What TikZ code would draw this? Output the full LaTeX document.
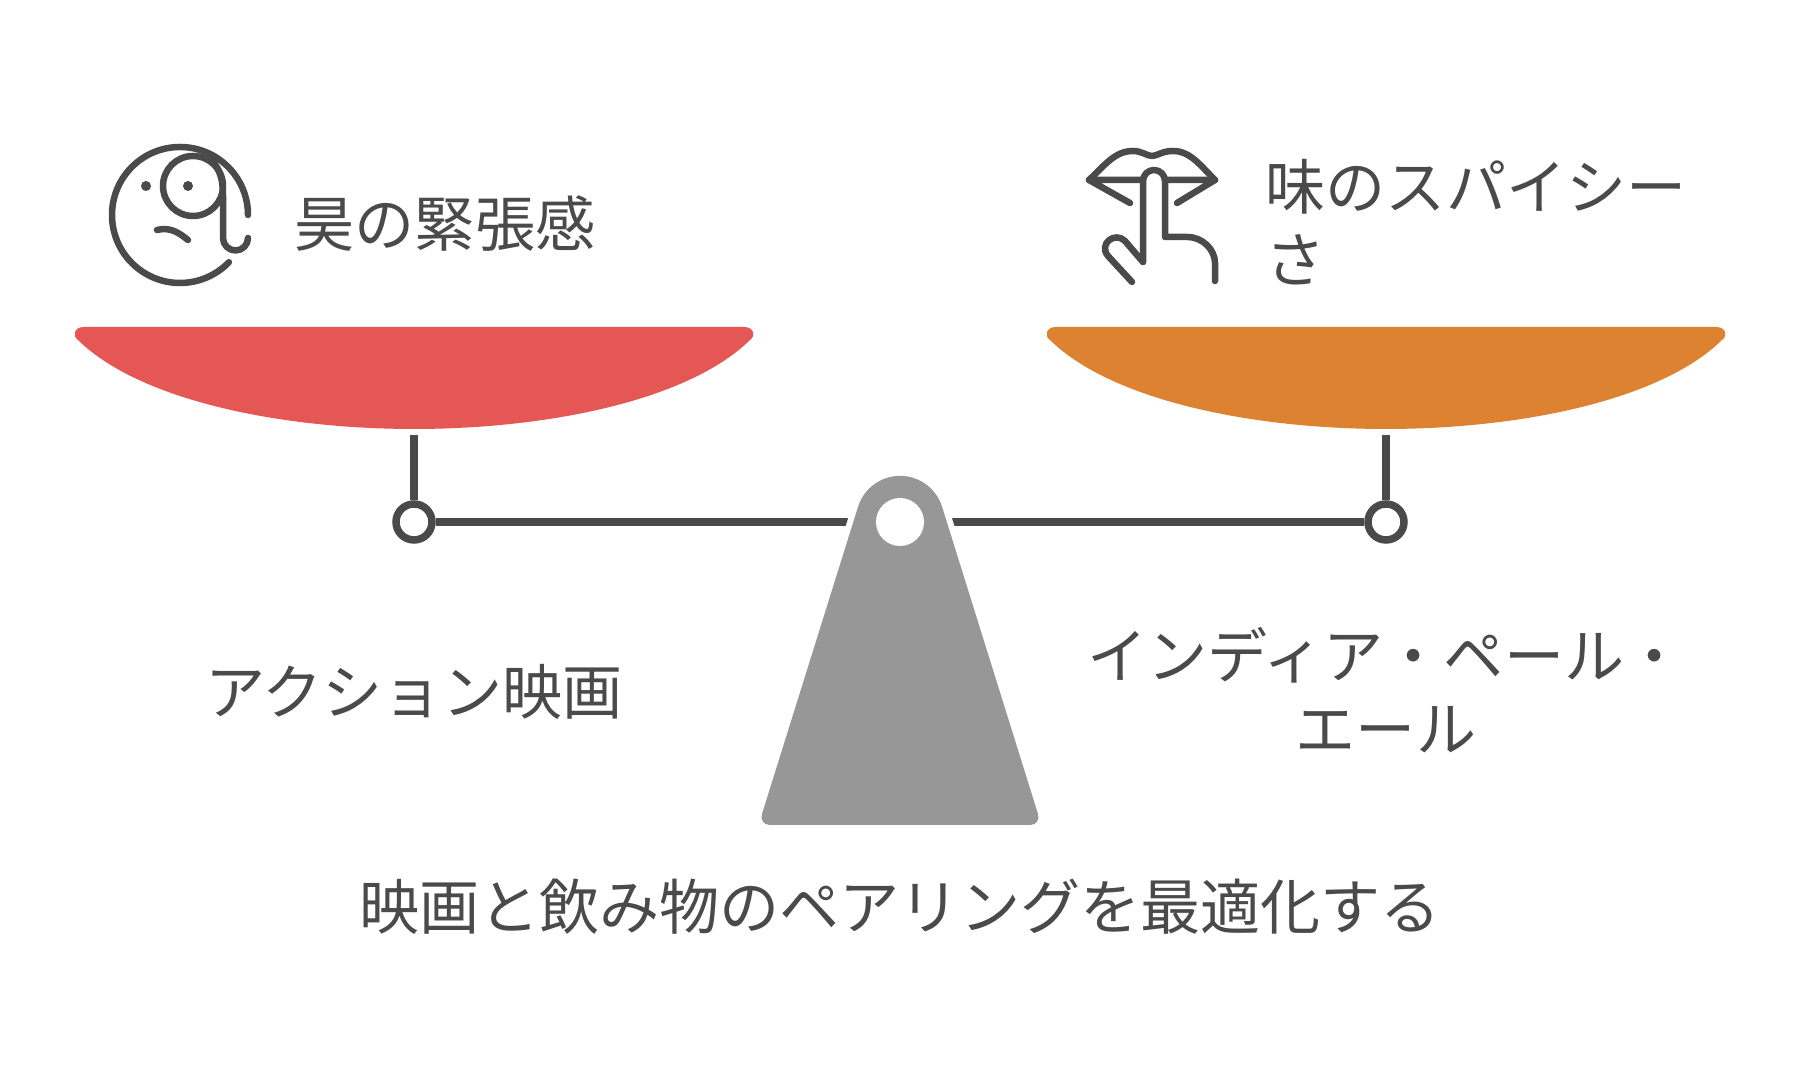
\documentclass[tikz,border=0pt]{standalone}
\usepackage{fontspec}
\newfontfamily\jpfont{Noto Sans CJK JP}
\definecolor{inkgrey}{HTML}{4A4A4A}
\definecolor{basegrey}{HTML}{979797}
\definecolor{panred}{HTML}{E55755}
\definecolor{panorange}{HTML}{DD8230}
\tikzset{
    label text/.style={text=inkgrey,inner sep=0pt,font=\jpfont\fontsize{17.1}{20.8}\selectfont},
    joint/.style={circle,draw=inkgrey,fill=white,line width=0.075cm,minimum size=0.36cm,inner sep=0pt},
    icon line/.style={draw=inkgrey,line width=0.065cm,line cap=round,line join=round},
    beam line/.style={draw=inkgrey,line width=0.075cm}
}

\begin{document}
\begin{tikzpicture}
    \useasboundingbox (0,0) rectangle (18,10.8);

    % Pans
    \foreach \x/\col in {4.14/panred,13.86/panorange} {
        \begin{scope}[xshift=\x cm]
            \fill [\col] (-3.3,7.53) -- (3.3,7.53)
                .. controls (3.4,7.53) and (3.42,7.44) .. (3.36,7.4)
                .. controls (2.75,6.8) and (1.35,6.51) .. (0,6.51)
                .. controls (-1.35,6.51) and (-2.75,6.8) .. (-3.36,7.4)
                .. controls (-3.42,7.44) and (-3.4,7.53) .. (-3.3,7.53) -- cycle;
        \end{scope}
    }

    \node [joint] (jointL) at (4.14,5.58) {};
    \node [joint] (jointR) at (13.86,5.58) {};
    \node [circle,fill=white,minimum size=0.48cm,inner sep=0pt] (hole) at (9,5.58) {};
    \coordinate (stemL) at (4.14,6.45);
    \coordinate (stemR) at (13.86,6.45);

    \draw [beam line] (stemL) -- (jointL);
    \draw [beam line] (stemR) -- (jointR);
    \draw [beam line] (jointL) -- (hole);
    \draw [beam line] (jointR) -- (hole);

    % Pivot with white halo
    \fill [basegrey,preaction={draw=white,line width=0.12cm}] (8.58,5.73)
        arc [start angle=163,end angle=17,radius=0.44]
        -- (10.38,2.66)
        .. controls (10.4,2.6) and (10.36,2.55) .. (10.3,2.55)
        -- (7.7,2.55)
        .. controls (7.64,2.55) and (7.6,2.6) .. (7.62,2.66) -- cycle;
    \node [circle,fill=white,minimum size=0.48cm,inner sep=0pt] at (hole) {};

    % Monocle face
    \begin{scope}[icon line]
        \draw (2.48,8.65) arc [start angle=0,end angle=316,radius=0.68];
        \draw (1.93,8.94) circle (0.3);
        \draw (2.12,9.2) .. controls (2.2,9.1) and (2.23,9.0) .. (2.23,8.85)
            -- (2.23,8.42) arc [start angle=180,end angle=360,radius=0.125];
        \draw (1.57,8.5) .. controls (1.7,8.53) and (1.78,8.48) .. (1.88,8.4);
    \end{scope}
    \fill [inkgrey] (1.46,8.94) circle (0.05);
    \fill [inkgrey] (1.88,8.94) circle (0.05);

    % Lips and finger
    \begin{scope}[icon line]
        \draw (11.3,8.77) -- (10.89,9) -- (11.43,9);
        \draw (11.77,8.77) -- (12.15,9) -- (11.65,9);
        \draw (10.89,9) .. controls (11.05,9.15) and (11.15,9.29) .. (11.33,9.29)
            .. controls (11.42,9.29) and (11.47,9.24) .. (11.52,9.24)
            .. controls (11.57,9.24) and (11.62,9.29) .. (11.73,9.29)
            .. controls (11.9,9.29) and (12,9.15) .. (12.15,9);
        \draw (11.43,8.18) -- (11.43,8.99) arc [start angle=180,end angle=0,radius=0.11]
            -- (11.65,8.43) -- (11.87,8.43)
            .. controls (12.03,8.43) and (12.15,8.3) .. (12.15,8.17) -- (12.15,7.99);
        \draw (11.43,8.18) -- (11.25,8.39)
            .. controls (11.15,8.49) and (10.98,8.36) .. (11.08,8.24) -- (11.32,7.98);
    \end{scope}

    \node [label text,anchor=west] (tensionText) at (2.94,8.56) {昊の緊張感};
    \node [label text,anchor=west,align=left] (spiceText) at (12.65,8.58) {味のスパイシー\\さ};
    \node [label text] (actionText) at (4.14,3.88) {アクション映画};
    \node [label text,align=center] (ipaText) at (13.86,3.9) {インディア・ペール・\\エール};
    \node [label text] (titleText) at (9,1.73) {映画と飲み物のペアリングを最適化する};
\end{tikzpicture}
\end{document}
